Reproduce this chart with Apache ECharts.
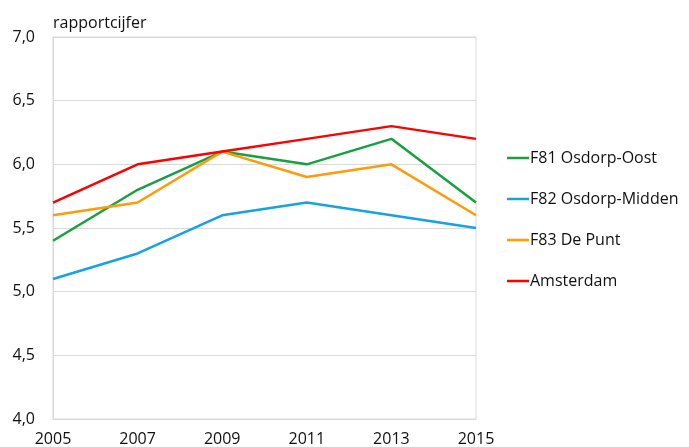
<!DOCTYPE html>
<html><head><meta charset="utf-8">
<script src="https://cdn.jsdelivr.net/npm/echarts@6/dist/echarts.min.js"></script>
<style>html,body{margin:0;padding:0;background:#fff}#c{width:689px;height:447px}</style>
</head><body><div id="c"></div>
<script>
const years = ['2005','2007','2009','2011','2013','2015'];
const osdorpOost = [5.4, 5.8, 6.1, 6.0, 6.2, 5.7];
const osdorpMidden = [5.1, 5.3, 5.6, 5.7, 5.6, 5.5];
const dePunt = [5.6, 5.7, 6.1, 5.9, 6.0, 5.6];
const amsterdam = [5.7, 6.0, 6.1, 6.2, 6.3, 6.2];
const names = ['F81 Osdorp-Oost','F82 Osdorp-Midden','F83 De Punt','Amsterdam'];
const colors = ['#17a03f','#16a2e4','#ff9a0a','#fe0000'];
const font = 'Open Sans';
const chart = echarts.init(document.getElementById('c'));
const mk = (name, data, color) => ({
  name, type:'line', data, symbol:'none', smooth:false,
  lineStyle:{width:2.5,color}, itemStyle:{color}, z: 3
});
chart.setOption({
  animation:false,
  textStyle:{fontFamily:font},
  title:{text:'rapportcijfer', left:48, top:10, textStyle:{fontFamily:font,fontSize:16,fontWeight:'normal',color:'#111'}},
  grid:{left:53, right:213, top:37, bottom:28, show:true, borderColor:'#d9d9d9', borderWidth:1},
  legend:{
    orient:'vertical', left:502, top:145, itemGap:25, itemWidth:22, itemHeight:2.5,
    icon:'rect', data:names,
    textStyle:{fontFamily:font, fontSize:16, color:'#111', padding:[0,0,0,-4]}
  },
  xAxis:{
    type:'category', data:years, boundaryGap:false,
    axisLine:{show:true,lineStyle:{color:'#d9d9d9'}}, axisTick:{show:false},
    axisLabel:{fontFamily:font,fontSize:16,color:'#111',margin:12,showMinLabel:true,showMaxLabel:true,interval:0},
    splitLine:{show:false}
  },
  yAxis:{
    type:'value', min:4.0, max:7.0, interval:0.5,
    axisLine:{show:true,lineStyle:{color:'#d9d9d9'}}, axisTick:{show:false},
    axisLabel:{fontFamily:font,fontSize:16,color:'#111',margin:18,
      formatter:v=>v.toFixed(1).replace('.',',')},
    splitLine:{show:true,lineStyle:{color:'#d9d9d9',width:1}}
  },
  series:[
    mk(names[0], osdorpOost, colors[0]),
    mk(names[1], osdorpMidden, colors[1]),
    mk(names[2], dePunt, colors[2]),
    mk(names[3], amsterdam, colors[3])
  ]
});
</script></body></html>
